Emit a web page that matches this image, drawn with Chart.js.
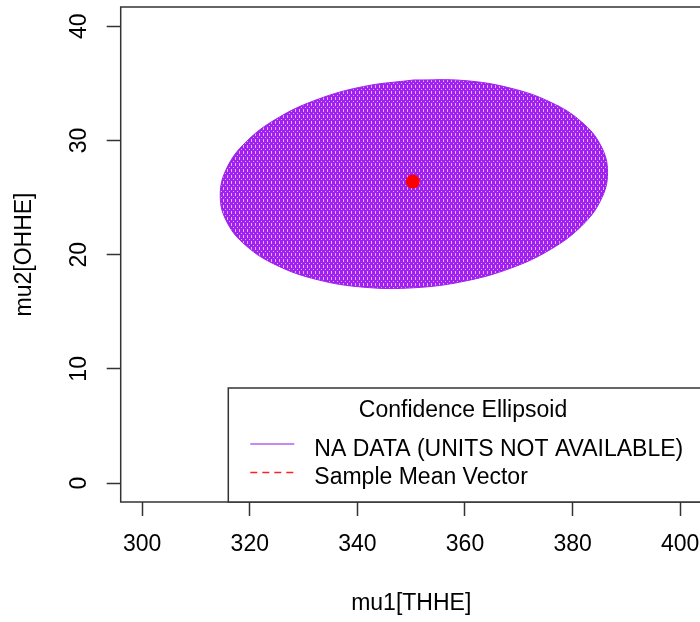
<!DOCTYPE html>
<html>
<head>
<meta charset="utf-8">
<title>Confidence Ellipsoid</title>
<script src="https://cdn.jsdelivr.net/npm/chart.js@4.4.1/dist/chart.umd.min.js"></script>
<style>
  html, body { margin: 0; padding: 0; background: #fff; overflow: hidden; }
  canvas { display: block; }
</style>
</head>
<body>
<canvas id="ellipseChart" width="720" height="622"></canvas>
<script>
// outline of the confidence region (starts at the top)
var ellipseX = [350.5, 359.82, 368.5, 375.96, 381.68, 385.27, 386.5, 385.27, 381.68, 375.96, 368.5, 359.82, 350.5,
                341.18, 332.5, 325.04, 319.32, 315.73, 314.5, 315.73, 319.32, 325.04, 332.5, 341.18, 350.5];
var ellipseY = [35.3, 35.25, 34.58, 33.34, 31.62, 29.53, 27.2, 24.81, 22.52, 20.48, 18.82, 17.67, 17.1,
                17.15, 17.82, 19.06, 20.78, 22.87, 25.2, 27.59, 29.88, 31.92, 33.58, 34.73, 35.3];

var meanX = [350.3];
var meanY = [26.4];

var xTicks = [300, 320, 340, 360, 380, 400];
var yTicks = [0, 10, 20, 30, 40];

var seriesLabels = ['NA DATA (UNITS NOT AVAILABLE)', 'Sample Mean Vector'];
var legendTitle = 'Confidence Ellipsoid';
var xTitle = 'mu1[THHE]';
var yTitle = 'mu2[OHHE]';

var FONT = '"Liberation Sans", Arial, sans-serif';
var AXIS = '#333333';

function toPoints(xs, ys) {
    var pts = [];
    for (var i = 0; i < xs.length; i++) {
        pts.push({ x: xs[i], y: ys[i] });
    }
    return pts;
}

var canvas = document.getElementById('ellipseChart');
var ctx = canvas.getContext('2d');

// dotted purple texture, like the grid of points R drew
var tile = document.createElement('canvas');
tile.width = 4;
tile.height = 6;
var tg = tile.getContext('2d');
tg.fillStyle = '#a020f0';
tg.fillRect(0, 0, 4, 6);
tg.fillStyle = '#dcb0fa';
tg.fillRect(3, 1, 1, 3);
tg.fillRect(1, 5, 1, 1);
var purpleFill = ctx.createPattern(tile, 'repeat');

var rFrame = {
    id: 'rFrame',
    afterDraw: function (chart) {
        var c = chart.ctx;
        var a = chart.chartArea;
        var ys = chart.scales.y;

        c.save();
        // plot box
        c.strokeStyle = AXIS;
        c.lineWidth = 1.5;
        c.strokeRect(a.left, a.top, a.right - a.left, a.bottom - a.top);

        // y tick labels, turned like R's
        c.fillStyle = '#000';
        c.font = '23px ' + FONT;
        c.textAlign = 'center';
        c.textBaseline = 'middle';
        yTicks.forEach(function (v) {
            c.save();
            c.translate(80, ys.getPixelForValue(v));
            c.rotate(-Math.PI / 2);
            c.fillText(String(v), 0, 0);
            c.restore();
        });

        // legend in the bottom right corner
        var w = 473.4, h = 114;
        var lx = a.right - w, ly = a.bottom - h;
        c.fillStyle = '#fff';
        c.fillRect(lx, ly, w, h);
        c.strokeRect(lx, ly, w, h);

        c.fillStyle = '#000';
        c.textBaseline = 'alphabetic';
        c.textAlign = 'center';
        c.fillText(legendTitle, lx + w / 2 - 2, ly + 28.5);

        var ds = chart.data.datasets;
        c.textAlign = 'left';
        c.fillText(ds[0].label, lx + 86, ly + 68);
        c.fillText(ds[1].label, lx + 86, ly + 95.5);

        c.lineWidth = 1.3;
        c.strokeStyle = '#b45ff3';
        c.beginPath();
        c.moveTo(lx + 22, ly + 56);
        c.lineTo(lx + 66, ly + 56);
        c.stroke();

        c.strokeStyle = '#ff2020';
        c.setLineDash([7, 5]);
        c.beginPath();
        c.moveTo(lx + 22, ly + 84.5);
        c.lineTo(lx + 66, ly + 84.5);
        c.stroke();
        c.restore();
    }
};

var chart = new Chart(ctx, {
    type: 'scatter',
    data: {
        datasets: [{
            label: seriesLabels[0],
            data: toPoints(ellipseX, ellipseY),
            showLine: true,
            fill: 'shape',
            tension: 0.4,
            borderColor: '#a020f0',
            borderWidth: 1,
            backgroundColor: purpleFill,
            pointRadius: 0,
            order: 2
        }, {
            label: seriesLabels[1],
            data: toPoints(meanX, meanY),
            pointRadius: 7,
            backgroundColor: '#ff0000',
            borderColor: '#ff0000',
            borderWidth: 0,
            order: 1
        }]
    },
    options: {
        responsive: false,
        animation: false,
        events: [],
        layout: { padding: { left: 0, top: 6.7, right: 18.3, bottom: 0 } },
        plugins: {
            legend: { display: false },
            tooltip: { enabled: false }
        },
        scales: {
            x: {
                type: 'linear',
                min: 296,
                max: 404,
                afterBuildTicks: function (s) { s.ticks = xTicks.map(function (v) { return { value: v }; }); },
                afterFit: function (s) { s.height = 120; },
                border: { display: false },
                grid: { drawOnChartArea: false, tickLength: 14, tickColor: AXIS, tickWidth: 1.5 },
                ticks: { color: '#000', font: { family: FONT, size: 23 }, padding: 15, maxRotation: 0 },
                title: { display: true, text: xTitle, color: '#000', font: { family: FONT, size: 23 }, padding: { top: 0, bottom: 5 } }
            },
            y: {
                type: 'linear',
                min: -1.66,
                max: 41.69,
                afterBuildTicks: function (s) { s.ticks = yTicks.map(function (v) { return { value: v }; }); },
                afterFit: function (s) { s.width = 120.7; },
                border: { display: false },
                grid: { drawOnChartArea: false, tickLength: 14, tickColor: AXIS, tickWidth: 1.5 },
                ticks: { display: false },
                title: { display: true, text: yTitle, color: '#000', font: { family: FONT, size: 23 }, padding: { top: 11, bottom: 0 } }
            }
        }
    },
    plugins: [rFrame]
});
</script>
</body>
</html>
